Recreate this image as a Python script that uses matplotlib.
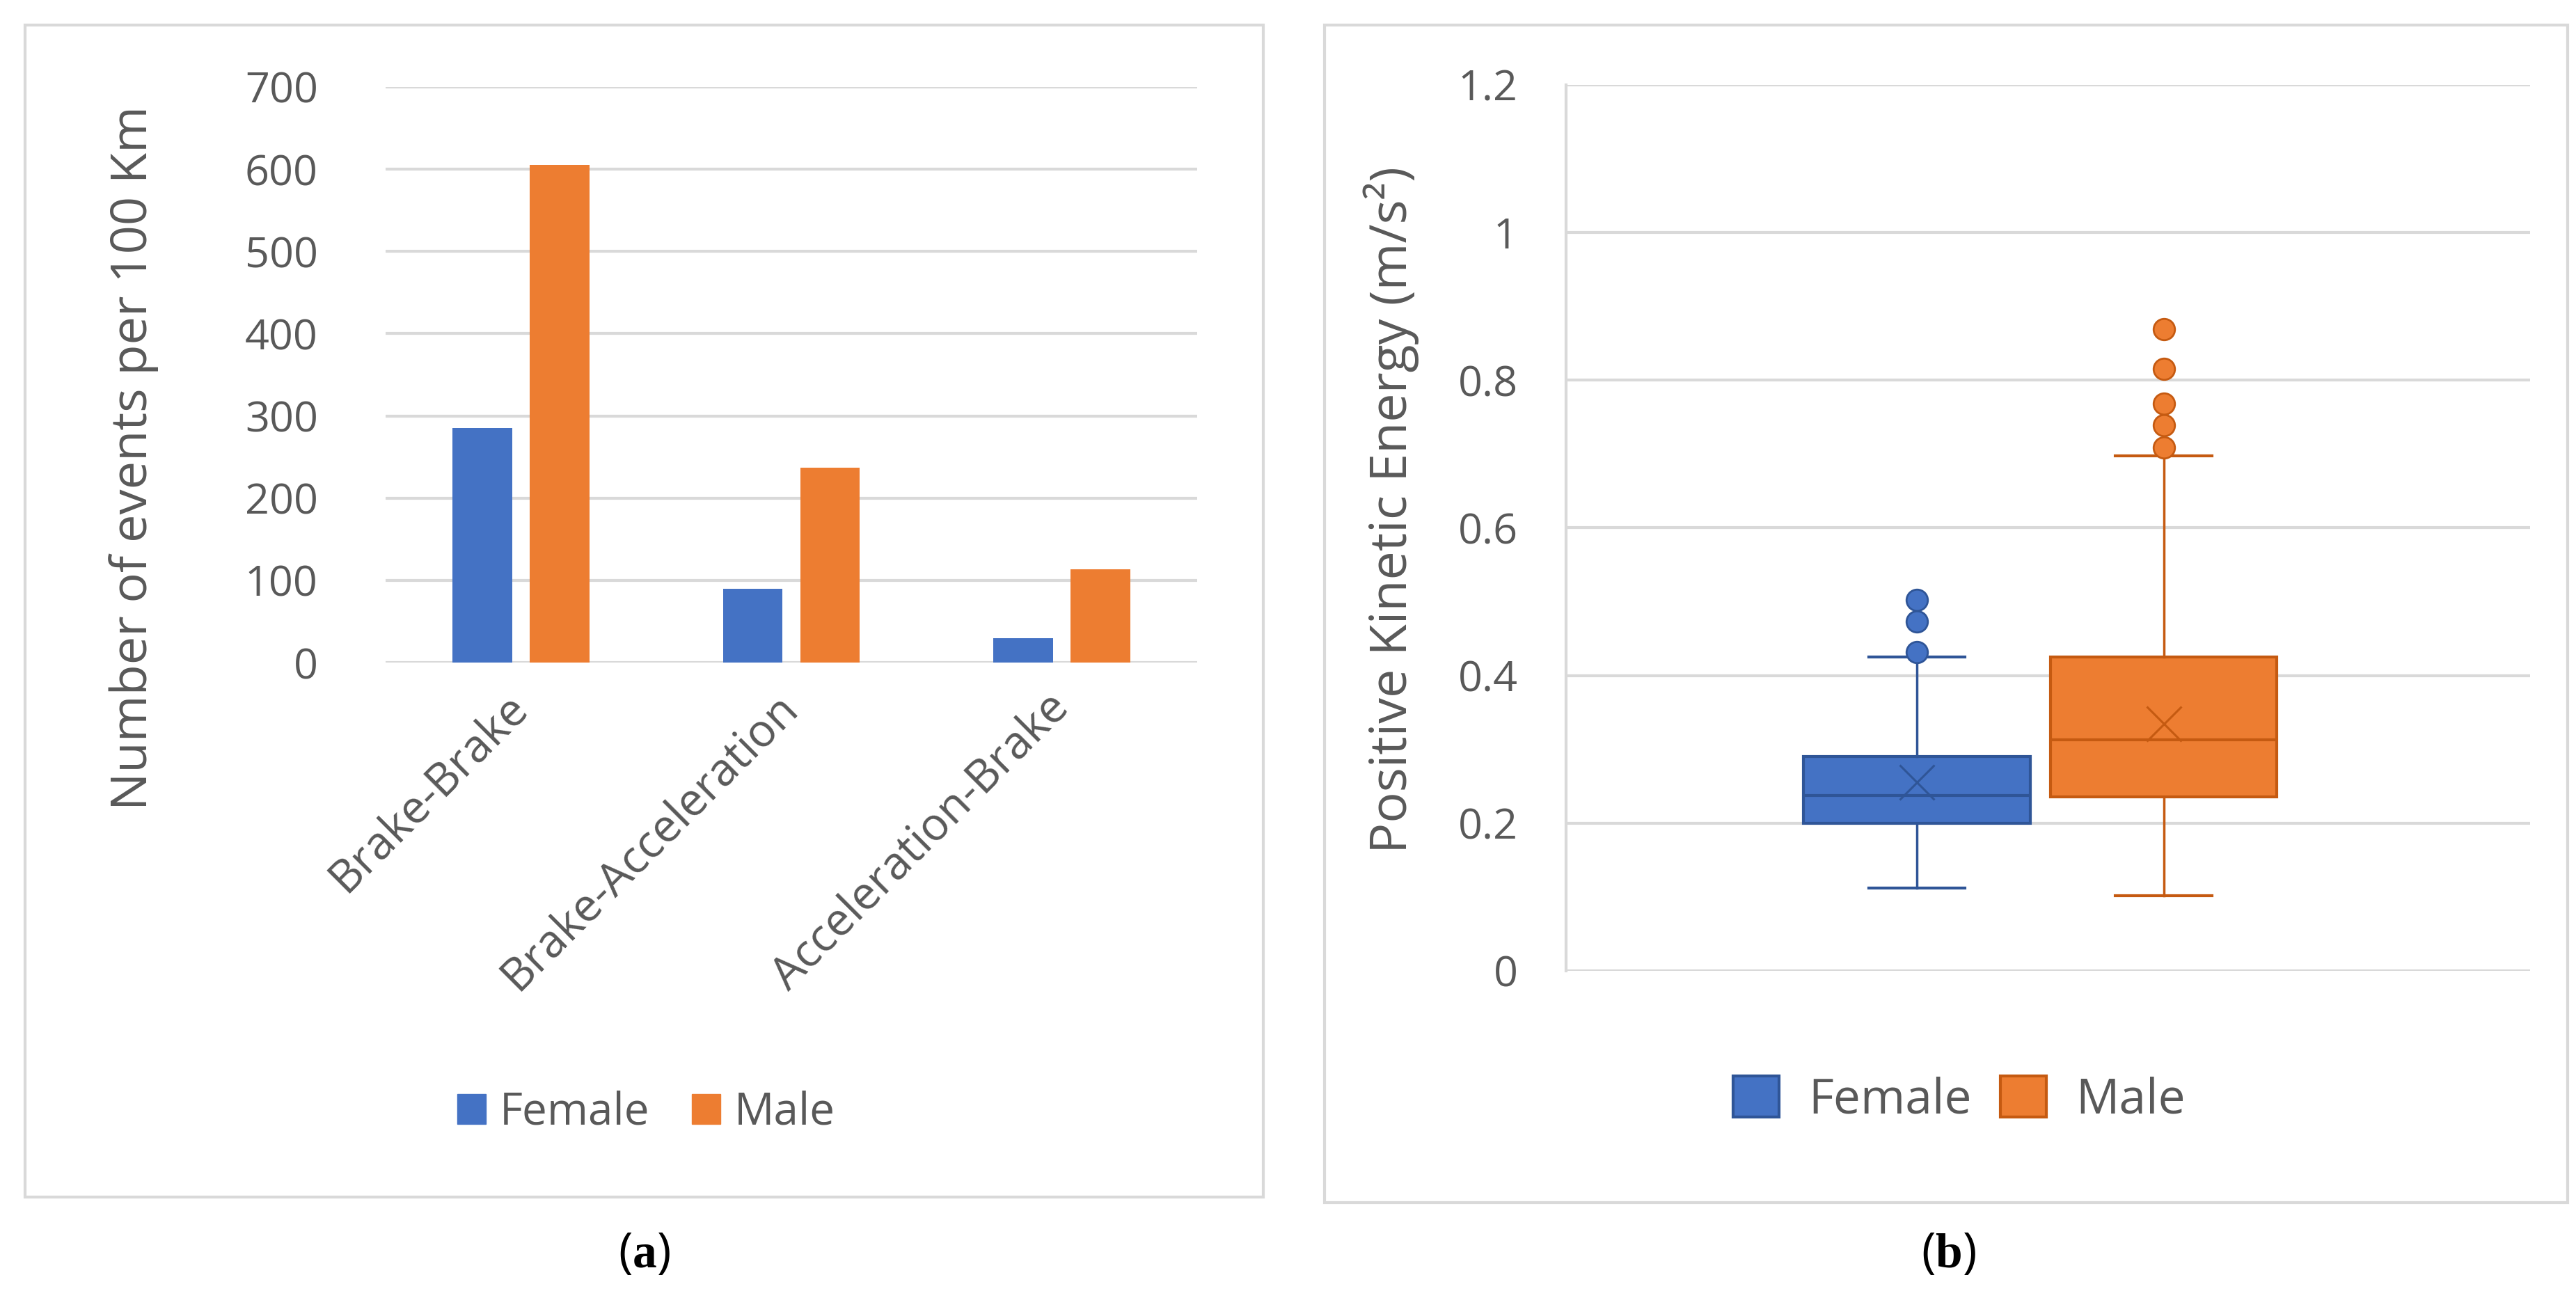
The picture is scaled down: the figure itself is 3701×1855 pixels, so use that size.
import numpy as np
import matplotlib.pyplot as plt
from matplotlib.patches import Rectangle, Patch

# panel (a): events per 100 km
categories = ["Brake-Brake", "Brake-Acceleration", "Acceleration-Brake"]
female_events = [285, 90, 30]
male_events = [605, 237, 113]

# panel (b): box plot stats
groups = ["Female", "Male"]
whislo = [0.112, 0.102]
q1 = [0.200, 0.236]
med = [0.238, 0.313]
mean = [0.255, 0.335]
q3 = [0.290, 0.425]
whishi = [0.425, 0.698]
fliers = [[0.432, 0.473, 0.502], [0.709, 0.739, 0.768, 0.815, 0.869]]

BLUE = "#4472C4"
ORANGE = "#ED7D31"
BLUE_D = "#2F5597"
ORANGE_D = "#C55A11"
GRID = "#D9D9D9"
TXT = "#595959"

plt.rcParams["font.family"] = ["Open Sans", "DejaVu Sans"]
plt.rcParams["mathtext.fontset"] = "custom"
plt.rcParams["mathtext.rm"] = "Liberation Serif"
plt.rcParams["mathtext.bf"] = "Liberation Serif:bold"

W, H = 3701, 1855
fig = plt.figure(figsize=(W / 100, H / 100), dpi=100)


def fx(px):
    return px / W


def fy(py):
    return 1 - py / H


# panel frames
for x0, y0, x1, y1 in [(36, 36, 1815, 1720), (1903, 36, 3689, 1728)]:
    fig.patches.append(Rectangle((fx(x0), fy(y1)), fx(x1 - x0), (y1 - y0) / H,
                                 transform=fig.transFigure, fill=False,
                                 edgecolor=GRID, linewidth=3))

# ---------- (a) ----------
ax1 = fig.add_axes([fx(554), fy(952), fx(1720 - 554), (952 - 125) / H])
x = np.arange(len(categories))
w = 0.22
ax1.bar(x - 0.143, female_events, w, color=BLUE, zorder=3, label="Female")
ax1.bar(x + 0.143, male_events, w, color=ORANGE, zorder=3, label="Male")
ax1.set_xlim(-0.5, 2.5)
ax1.set_ylim(0, 700)
ax1.set_yticks(range(0, 701, 100))
ax1.yaxis.grid(True, color=GRID, linewidth=3, zorder=0)
for s in ax1.spines.values():
    s.set_visible(False)
ax1.tick_params(length=0, labelsize=44, labelcolor=TXT)
ax1.tick_params(axis="y", pad=70)
ax1.set_xticks(x)
ax1.set_xticklabels(categories, rotation=45, ha="right", va="center",
                    rotation_mode="anchor", fontsize=47)
ax1.tick_params(axis="x", pad=40)
ax1.set_ylabel("Number of events per 100 Km", fontsize=52, color=TXT)
ax1.yaxis.set_label_coords(-0.28, 0.355)
fig.legend(handles=[Patch(color=BLUE, label="Female"), Patch(color=ORANGE, label="Male")],
           loc="center", bbox_to_anchor=(fx(928), fy(1599)), ncol=2, frameon=False,
           fontsize=46, labelcolor=TXT, handlelength=0.65, handleheight=0.65,
           handletextpad=0.3, columnspacing=0.95)
fig.text(fx(925), fy(1803), r"($\mathbf{a}$)", ha="center", va="center", fontsize=50)

# ---------- (b) ----------
ax2 = fig.add_axes([fx(2250), fy(1395), fx(3635 - 2250), (1395 - 122) / H])
pos = [0.364, 0.62]
cols = [(BLUE, BLUE_D), (ORANGE, ORANGE_D)]
for i in range(len(groups)):
    st = [dict(whislo=whislo[i], q1=q1[i], med=med[i], q3=q3[i], whishi=whishi[i],
               mean=mean[i], fliers=fliers[i])]
    fc, ec = cols[i]
    ax2.bxp(st, positions=[pos[i]], widths=0.235, patch_artist=True, showmeans=True,
            capwidths=0.1,
            boxprops=dict(facecolor=fc, edgecolor=ec, linewidth=3),
            medianprops=dict(color=ec, linewidth=3),
            whiskerprops=dict(color=ec, linewidth=2.5),
            capprops=dict(color=ec, linewidth=3),
            meanprops=dict(marker="x", markersize=36, markeredgecolor=ec,
                           markeredgewidth=2.2),
            flierprops=dict(marker="o", markersize=22, markerfacecolor=fc,
                            markeredgecolor=ec, markeredgewidth=2),
            zorder=3)
ax2.set_xlim(0, 1)
ax2.set_ylim(0, 1.2)
ax2.set_yticks([0, 0.2, 0.4, 0.6, 0.8, 1, 1.2])
ax2.set_yticklabels(["0", "0.2", "0.4", "0.6", "0.8", "1", "1.2"])
ax2.yaxis.grid(True, color=GRID, linewidth=3, zorder=0)
for s in ["top", "right", "bottom"]:
    ax2.spines[s].set_visible(False)
ax2.spines["left"].set_color(GRID)
ax2.spines["left"].set_linewidth(3)
ax2.set_xticks([])
ax2.tick_params(length=0, labelsize=44, labelcolor=TXT, pad=50)
ax2.set_ylabel("Positive Kinetic Energy (m/s²)", fontsize=53, color=TXT, labelpad=40)
ax2.yaxis.label.set_y(0.52)
fig.legend(handles=[Patch(facecolor=BLUE, edgecolor=BLUE_D, linewidth=3, label="Female"),
                    Patch(facecolor=ORANGE, edgecolor=ORANGE_D, linewidth=3, label="Male")],
           loc="center", bbox_to_anchor=(fx(2815), fy(1581)), ncol=2, frameon=False,
           fontsize=50, labelcolor=TXT, handlelength=0.95, handleheight=0.95,
           handletextpad=0.6, columnspacing=0.6)
fig.text(fx(2799), fy(1803), r"($\mathbf{b}$)", ha="center", va="center", fontsize=50)

fig.savefig("out.png", dpi=100, facecolor="white")
